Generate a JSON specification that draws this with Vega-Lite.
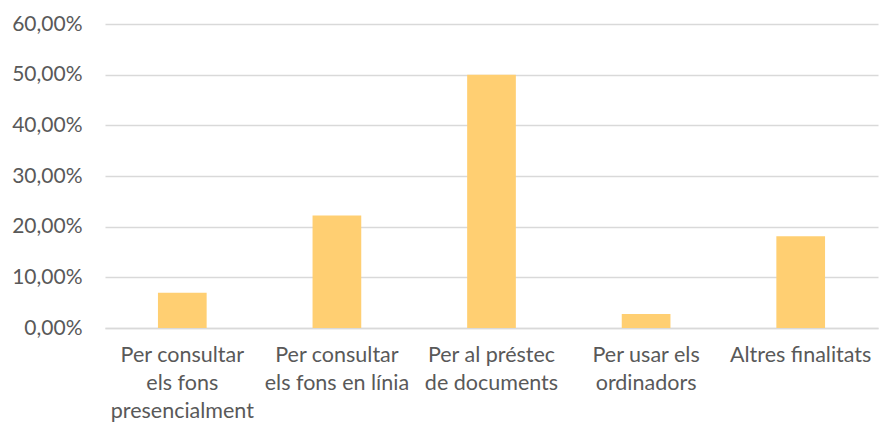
{
  "$schema": "https://vega.github.io/schema/vega-lite/v6.json",
  "autosize": "none",
  "width": 773,
  "height": 304,
  "padding": {"left": 105, "top": 24, "right": 1, "bottom": 100},
  "background": "white",
  "config": {"view": {"stroke": null}, "font": "Lato"},
  "data": {
    "values": [
      {"finalitat": "Per consultar els fons presencialment", "pct": 0.0696},
      {"finalitat": "Per consultar els fons en línia", "pct": 0.222},
      {"finalitat": "Per al préstec de documents", "pct": 0.50},
      {"finalitat": "Per usar els ordinadors", "pct": 0.0276},
      {"finalitat": "Altres finalitats", "pct": 0.181}
    ]
  },
  "mark": {"type": "bar", "color": "#FFCF72"},
  "encoding": {
    "x": {
      "field": "finalitat",
      "type": "nominal",
      "sort": null,
      "scale": {"paddingInner": 0.685, "paddingOuter": 0.3425},
      "axis": {
        "title": null,
        "labelAngle": 0,
        "ticks": false,
        "domain": true,
        "domainColor": "#d9d9d9",
        "domainWidth": 1.5,
        "labelColor": "#595959",
        "labelFontSize": 21.5,
        "labelPadding": 16,
        "labelLineHeight": 28,
        "labelLimit": 200,
        "labelExpr": "datum.value == 'Per consultar els fons presencialment' ? ['Per consultar', 'els fons', 'presencialment'] : datum.value == 'Per consultar els fons en línia' ? ['Per consultar', 'els fons en línia'] : datum.value == 'Per al préstec de documents' ? ['Per al préstec', 'de documents'] : datum.value == 'Per usar els ordinadors' ? ['Per usar els', 'ordinadors'] : datum.value"
      }
    },
    "y": {
      "field": "pct",
      "type": "quantitative",
      "scale": {"domain": [0, 0.6], "nice": false},
      "axis": {
        "title": null,
        "values": [0, 0.1, 0.2, 0.3, 0.4, 0.5, 0.6],
        "domain": false,
        "ticks": false,
        "gridColor": "#d9d9d9",
        "gridWidth": 1.5,
        "labelColor": "#595959",
        "labelFontSize": 21,
        "labelPadding": 23,
        "labelExpr": "replace(format(datum.value, '.2%'), '.', ',')"
      }
    }
  }
}
